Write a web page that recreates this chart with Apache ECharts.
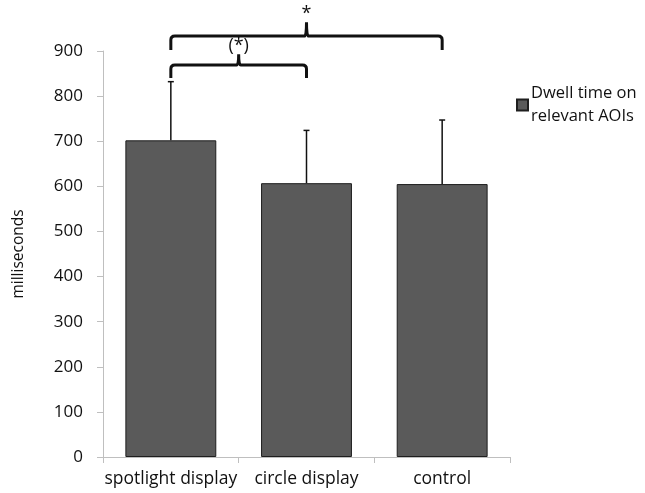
<!DOCTYPE html>
<html><head><meta charset="utf-8">
<script src="https://cdn.jsdelivr.net/npm/echarts@6/dist/echarts.min.js"></script>
<style>html,body{margin:0;padding:0;background:#fff}#c{width:645px;height:493px}</style>
</head><body><div id="c"></div>
<script>
const categories = ['spotlight display', 'circle display', 'control'];
const means = [702, 607, 605];
const errTop = [832, 724, 747];
const yTicks = [0, 100, 200, 300, 400, 500, 600, 700, 800, 900];
// brackets: [fromIndex, toIndex, barLevel, endLevel, tipLevel, label]
const brackets = [
  [0, 2, 933, 902, 964, '*'],
  [0, 1, 869, 840, 893, '(*)']
];
const FONT = '"Open Sans", Lato, sans-serif';
const chart = echarts.init(document.getElementById('c'));
chart.setOption({
  animation: false,
  grid: { left: 103, right: 135, top: 51, bottom: 36, containLabel: false, outerBoundsMode: 'none' },
  legend: {
    data: ['Dwell time on\nrelevant AOIs'],
    left: 511, top: 77, orient: 'vertical',
    itemWidth: 11, itemHeight: 11, itemGap: 4,
    textStyle: { fontFamily: FONT, fontSize: 16.5, color: '#111', lineHeight: 23, padding: [0, 0, 0, -2] },
    icon: 'rect'
  },
  xAxis: {
    type: 'category', data: categories,
    axisLine: { lineStyle: { color: '#bfbfbf' } },
    axisTick: { show: true, length: 6, lineStyle: { color: '#bfbfbf' } },
    axisLabel: { interval: 0, fontFamily: FONT, fontSize: 17.5, color: '#111', margin: 13 }
  },
  yAxis: {
    type: 'value', min: 0, max: 900, interval: 100,
    name: 'milliseconds', nameLocation: 'middle', nameGap: 76, nameRotate: 90,
    nameTextStyle: { fontFamily: FONT, fontSize: 15.5, color: '#111' },
    axisLine: { show: true, lineStyle: { color: '#bfbfbf' } },
    axisTick: { show: true, length: 6, lineStyle: { color: '#bfbfbf' } },
    splitLine: { show: false },
    axisLabel: { fontFamily: FONT, fontSize: 17, color: '#111', margin: 20,
      formatter: v => yTicks.includes(v) ? String(v) : '' }
  },
  series: [
    {
      name: 'Dwell time on\nrelevant AOIs', type: 'bar', data: means,
      barWidth: '67%',
      itemStyle: { color: '#5a5a5a', borderColor: '#1e1e1e', borderWidth: 1 },
      z: 2
    },
    {
      type: 'custom', silent: true, clip: false, z: 3,
      data: categories.map((c, i) => [i, means[i], errTop[i]]),
      renderItem: (params, api) => {
        const b = api.coord([api.value(0), api.value(1)]);
        const t = api.coord([api.value(0), api.value(2)]);
        return { type: 'group', children: [
          { type: 'line', shape: { x1: b[0], y1: b[1], x2: t[0], y2: t[1] }, style: { stroke: '#111', lineWidth: 1.5 } },
          { type: 'line', shape: { x1: t[0] - 3, y1: t[1], x2: t[0] + 3, y2: t[1] }, style: { stroke: '#111', lineWidth: 1.5 } }
        ]};
      }
    },
    {
      type: 'custom', silent: true, clip: false, z: 4,
      data: brackets.map(b => [b[0], b[1], b[2], b[3], b[4]]),
      renderItem: (params, api) => {
        const br = brackets[params.dataIndex];
        const a = api.coord([api.value(0), api.value(2)]);
        const c = api.coord([api.value(1), api.value(2)]);
        const ea = api.coord([api.value(0), api.value(3)]);
        const mid = (a[0] + c[0]) / 2;
        const tip = api.coord([api.value(0), api.value(4)]);
        const r = 4;
        return { type: 'group', children: [
          { type: 'path', shape: { pathData:
            `M${a[0]} ${ea[1]} L${a[0]} ${a[1] + r} Q${a[0]} ${a[1]} ${a[0] + r} ${a[1]} L${mid - 2} ${a[1]} Q${mid} ${a[1]} ${mid} ${tip[1]} Q${mid} ${a[1]} ${mid + 2} ${a[1]} L${c[0] - r} ${c[1]} Q${c[0]} ${c[1]} ${c[0]} ${c[1] + r} L${c[0]} ${ea[1]}` },
            style: { stroke: '#111', lineWidth: 3, fill: null } },
          { type: 'text', x: mid, y: tip[1] + 1, style: { text: br[5], textAlign: 'center', textVerticalAlign: 'bottom', font: '18px ' + FONT, fill: '#111' } }
        ]};
      }
    }
  ]
});
</script></body></html>
